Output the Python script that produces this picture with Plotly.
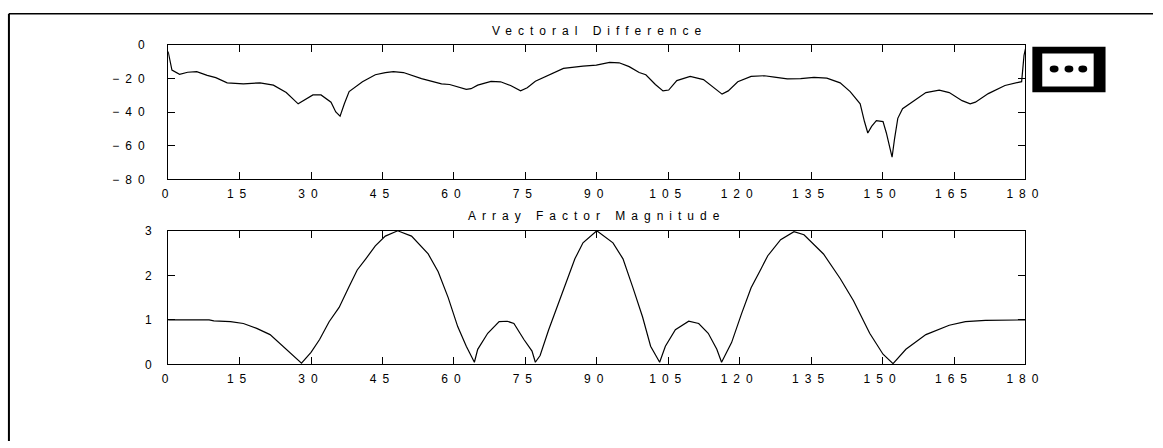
import plotly.graph_objects as go

# ---- data ----
vd_deg = [0, 0.8, 2.4, 4.1, 6, 8.2, 10, 12.4, 15.8, 19.3, 22.1, 24.8, 27.3, 28.5, 30.4, 32.1,
          34.2, 35.2, 36.1, 37, 38, 40.8, 43.5, 45.6, 47.3, 49.4, 53.2, 57.4, 59.1, 62.6, 63.6,
          65, 67.8, 69.8, 71.9, 74, 75.4, 77.1, 80.2, 83, 87.1, 89.9, 92.7, 94.7, 96.8, 98.9,
          100.3, 102.3, 103.9, 105.1, 106.8, 109.6, 112.4, 114.5, 116.3, 117.6, 119.6, 122.4,
          125.2, 127.3, 130.0, 132.8, 135.6, 138.3, 141.1, 143.2, 145.3, 146.2, 146.9, 147.7,
          148.7, 150.1, 150.8, 151.6, 152.0, 152.5, 153.2, 154.2, 157, 159.1, 161.9, 164, 166.7,
          168.4, 169.5, 172.2, 175.7, 178.5, 179.2, 179.7, 180]
vd_val = [-4, -15, -17.5, -16.3, -16, -18.2, -19.5, -22.6, -23.2, -22.6, -24, -28.4, -35.1, -33,
          -29.8, -29.8, -34.1, -39.9, -42.4, -35, -27.8, -22, -17.8, -16.5, -15.9, -16.5, -20.1,
          -23.2, -23.6, -26.5, -26.1, -24, -21.7, -22, -24.2, -27.4, -25.5, -21.7, -17.8, -14,
          -12.7, -12.1, -10.5, -10.7, -13, -16.5, -17.8, -23.6, -27.4, -26.9, -21.3, -18.8,
          -20.7, -25.5, -29.3, -27.4, -22, -18.8, -18.4, -19.2, -20.3, -20.1, -19.4, -19.8,
          -22.6, -27.8, -35.1, -45.6, -52.4, -48.5, -45.1, -45.6, -52.4, -62, -66.8, -56.2,
          -43.7, -38, -32.2, -28.4, -27, -28.4, -33.2, -35.1, -34.1, -29, -24.2, -22.6, -21.9,
          -6.3, -2.4]

af_deg = [0, 8.6, 9.6, 13.1, 15.8, 18.6, 21.4, 24.1, 26.2, 28, 30, 31.8, 33.8, 35.9, 38, 39.7,
          41.5, 43.5, 45.6, 48.2, 51.1, 54.6, 56.7, 58.8, 60.8, 62.6, 64.3, 65, 67.1, 69.5,
          71.2, 72.6, 74.7, 76.4, 77.1, 78.1, 79.9, 81.6, 83.7, 85.4, 87.1, 90, 93.4, 95.5,
          97.6, 99.6, 101.3, 103.2, 104.4, 106.5, 109.3, 111.4, 113.4, 115.2, 116.2, 118.3,
          120.4, 122.4, 124.5, 125.9, 128.6, 131.4, 133.5, 137.6, 141.1, 143.9, 147.3, 150.1,
          152.2, 154.9, 159.1, 164, 167.4, 171.6, 180]
af_val = [1.0, 1.0, 0.98, 0.96, 0.92, 0.81, 0.67, 0.41, 0.21, 0.03, 0.27, 0.56, 0.96, 1.28, 1.75,
          2.12, 2.37, 2.66, 2.88, 3.0, 2.88, 2.48, 2.08, 1.5, 0.85, 0.41, 0.05, 0.34, 0.70, 0.96,
          0.97, 0.92, 0.56, 0.30, 0.05, 0.2, 0.78, 1.28, 1.86, 2.37, 2.73, 3.0, 2.73, 2.37, 1.72,
          1.07, 0.41, 0.05, 0.41, 0.78, 0.97, 0.92, 0.70, 0.34, 0.05, 0.49, 1.14, 1.72, 2.15,
          2.44, 2.8, 2.98, 2.91, 2.48, 1.93, 1.43, 0.7, 0.23, 0.02, 0.34, 0.67, 0.88, 0.96,
          0.99, 1.0]

x_ticks = [0, 15, 30, 45, 60, 75, 90, 105, 120, 135, 150, 165, 180]
vd_ticks = [0, -20, -40, -60, -80]
af_ticks = [0, 1, 2, 3]

title_top = "Vectoral Difference"
title_bottom = "Array Factor Magnitude"

# ---- layout geometry (pixels -> paper) ----
W, H = 1163, 448
def px(x):
    return x / W
def py(y):
    return 1 - y / H

FONT = "Liberation Sans, Arial, sans-serif"

fig = go.Figure()
fig.add_trace(go.Scatter(x=vd_deg, y=vd_val, mode="lines",
                         line=dict(color="black", width=1.2), xaxis="x", yaxis="y",
                         showlegend=False))
fig.add_trace(go.Scatter(x=af_deg, y=af_val, mode="lines",
                         line=dict(color="black", width=1.2), xaxis="x2", yaxis="y2",
                         showlegend=False))

axis_common = dict(showgrid=False, zeroline=False, showline=True, linecolor="black",
                   linewidth=1, mirror="allticks", ticks="inside", ticklen=7,
                   tickcolor="black", tickfont=dict(family=FONT, size=12, color="black"))

fig.update_layout(
    width=W, height=H,
    margin=dict(l=0, r=0, t=0, b=0),
    paper_bgcolor="white", plot_bgcolor="white",
    font=dict(family=FONT, color="black"),
    showlegend=False,
    xaxis=dict(domain=[px(167), px(1034)], range=[0, 180], tickvals=x_ticks,
               anchor="y", ticklabelstandoff=3, **axis_common),
    yaxis=dict(domain=[py(178), py(39)], range=[-80, 0], tickvals=vd_ticks,
               anchor="x", ticklabelstandoff=14, **axis_common),
    xaxis2=dict(domain=[px(167), px(1034)], range=[0, 180], tickvals=x_ticks,
                anchor="y2", ticklabelstandoff=3, **axis_common),
    yaxis2=dict(domain=[py(369), py(231)], range=[0, 3], tickvals=af_ticks,
                anchor="x2", ticklabelstandoff=7, **axis_common),
)

fig.add_annotation(text=title_top, xref="paper", yref="paper", x=px(603), y=py(25),
                   showarrow=False, font=dict(family=FONT, size=12, color="black"),
                   xanchor="center", yanchor="middle")
fig.add_annotation(text=title_bottom, xref="paper", yref="paper", x=px(601), y=py(216),
                   showarrow=False, font=dict(family=FONT, size=12, color="black"),
                   xanchor="center", yanchor="middle")

# outer frame (left and top edges)
fig.add_shape(type="line", xref="paper", yref="paper", x0=px(6), x1=px(6), y0=py(7), y1=0,
              line=dict(color="black", width=2))
fig.add_shape(type="line", xref="paper", yref="paper", x0=px(6), x1=1, y0=py(7), y1=py(7),
              line=dict(color="black", width=1.5))

# legend-like box with thick border and three dots
fig.add_shape(type="rect", xref="paper", yref="paper", x0=px(1041), x1=px(1115),
              y0=py(88), y1=py(41), fillcolor="black", line=dict(width=0))
fig.add_shape(type="rect", xref="paper", yref="paper", x0=px(1051), x1=px(1103),
              y0=py(82), y1=py(48), fillcolor="white", line=dict(width=0))
for cx in (1063, 1078, 1092):
    fig.add_shape(type="circle", xref="paper", yref="paper", x0=px(cx - 4.5), x1=px(cx + 4.5),
                  y0=py(67.5), y1=py(60.5), fillcolor="black", line=dict(width=0))

post = """
document.documentElement.style.margin='0';
document.documentElement.style.padding='0';
document.documentElement.style.overflow='hidden';
document.body.style.margin='0';
document.body.style.padding='0';
document.body.style.overflow='hidden';
var gd = document.getElementById('{plot_id}');
function ls(){
  gd.querySelectorAll('.xaxislayer-above text, .yaxislayer-above text').forEach(function(e){ e.style.letterSpacing='6px'; });
  gd.querySelectorAll('.annotation-text').forEach(function(e){ e.style.letterSpacing='6px'; });
}
ls();
if (gd.on) { gd.on('plotly_afterplot', ls); }
"""

fig.write_html("out.html", post_script=post)
